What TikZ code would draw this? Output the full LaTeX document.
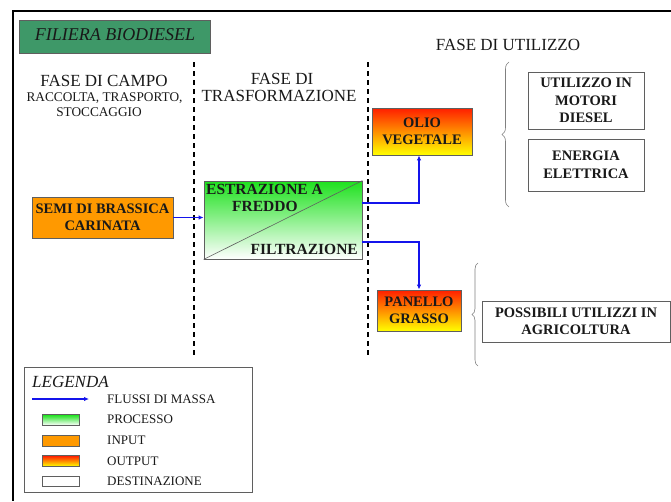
\documentclass[tikz,border=0pt]{standalone}
\usepackage{fontspec}
\setmainfont{Liberation Serif}
\usetikzlibrary{arrows.meta,decorations.pathreplacing}

\definecolor{titlegreen}{RGB}{62,152,104}
\definecolor{inorange}{RGB}{255,153,0}
\definecolor{flowblue}{RGB}{20,20,235}
\definecolor{boxgray}{RGB}{95,95,95}
\definecolor{procgreen}{RGB}{30,225,30}
\definecolor{outred}{RGB}{255,30,0}
\definecolor{outyellow}{RGB}{255,255,0}
\definecolor{txt}{RGB}{25,25,25}

\newcommand\myfs[2]{\fontsize{#1}{#2}\selectfont}

\begin{document}
\begin{tikzpicture}[x=1pt,y=-1pt,
 boxbase/.style={draw=boxgray, line width=0.8pt, rectangle, inner sep=0pt, align=center, text=txt, font=\bfseries\myfs{14.5}{17.5}},
 inbox/.style={boxbase, fill=inorange},
 outbox/.style={boxbase, top color=outred, bottom color=outyellow},
 destbox/.style={boxbase, fill=white},
 procbox/.style={boxbase, top color=procgreen, bottom color=white},
 titlebox/.style={boxbase, fill=titlegreen, font=\itshape\myfs{17}{20}},
 flow/.style={draw=flowblue, line width=1.6pt, -{Latex[length=5pt,width=4.5pt]}},
 phase/.style={anchor=base, font=\myfs{17}{20}, text=txt, inner sep=0pt},
 subphase/.style={anchor=base, font=\myfs{13.3}{16}, text=txt, inner sep=0pt},
 proctext/.style={font=\bfseries\myfs{15.5}{18}, text=txt, inner sep=0pt},
 sepline/.style={line width=1.4pt, dash pattern=on 5pt off 4pt},
 legtext/.style={anchor=base west, font=\myfs{13}{15}, text=txt, inner sep=0pt},
 swatch/.style={boxbase, minimum width=37pt, minimum height=10.5pt},
 bracestyle/.style={draw=gray, line width=0.6pt, decorate},
 frameline/.style={line width=2.4pt, black}]

\useasboundingbox (0,0) rectangle (671,501);

% frame
\coordinate (fa) at (671,11);
\coordinate (fb) at (13,11);
\coordinate (fc) at (13,501);
\draw[frameline] (fa) -- (fb) -- (fc);

% title
\node[titlebox, minimum width=191pt, minimum height=33pt] (title) at (114.5,36.5) {};
\node[anchor=base, font=\itshape\myfs{18}{20}, text=txt, inner sep=0pt] (titletext) at (115,40) {FILIERA BIODIESEL};

% phase headings
\node[phase] (futil) at (508,50) {FASE DI UTILIZZO};
\node[phase] (fcampo) at (104,86) {FASE DI CAMPO};
\node[subphase] (racc) at (104.5,101) {RACCOLTA, TRASPORTO,};
\node[subphase] (stocc) at (99,116) {STOCCAGGIO};
\node[phase] (ftr1) at (282,84.5) {FASE DI};
\node[phase] (ftr2) at (279,101) {TRASFORMAZIONE};

% separators
\coordinate (s1a) at (194,62); \coordinate (s1b) at (194,358);
\coordinate (s2a) at (368,62); \coordinate (s2b) at (368,358);
\draw[sepline] (s1a) -- (s1b);
\draw[sepline] (s2a) -- (s2b);

% boxes
\node[inbox, minimum width=141pt, minimum height=41pt] (semi) at (102.5,217.5) {SEMI DI BRASSICA\\CARINATA};
\node[procbox, minimum width=158pt, minimum height=78pt] (proc) at (283,220) {};
\draw[draw=boxgray, line width=0.6pt] (proc.south west) -- (proc.north east);
\node[proctext, anchor=base west] (estr) at (206,194) {ESTRAZIONE A};
\node[proctext, anchor=base west] (fredd) at (232,211) {FREDDO};
\node[proctext, anchor=base east] (filt) at (358,254) {FILTRAZIONE};

\node[outbox, minimum width=100pt, minimum height=47pt] (olio) at (422,131.5) {OLIO\\VEGETALE};
\node[outbox, minimum width=84pt, minimum height=41pt] (pan) at (419,310.5) {PANELLO\\GRASSO};

\node[destbox, minimum width=116pt, minimum height=57pt] (motori) at (586,100.5) {UTILIZZO IN\\MOTORI\\DIESEL};
\node[destbox, minimum width=116pt, minimum height=52pt] (energia) at (586,165) {ENERGIA\\ELETTRICA};
\node[destbox, minimum width=188pt, minimum height=41pt] (agri) at (576,321.5) {POSSIBILI UTILIZZI IN\\AGRICOLTURA};

% flows
\draw[flow] (semi.east) -- (semi.east -| proc.west);
\draw[flow] (proc.east |- 0,203) -| (pan.north |- olio.south);
\draw[flow] (proc.east |- 0,242) -| (pan.north);

% braces
\coordinate (b1a) at (509,207); \coordinate (b1b) at (509,62);
\draw[bracestyle, decoration={brace, amplitude=7pt}] (b1a) -- (b1b);
\coordinate (b2a) at (478,366); \coordinate (b2b) at (478,263);
\draw[bracestyle, decoration={brace, amplitude=6pt}] (b2a) -- (b2b);

% legend
\node[destbox, minimum width=228pt, minimum height=125pt] (leg) at (138,429.5) {};
\node[anchor=base west, font=\itshape\myfs{17}{20}, text=txt, inner sep=0pt] (legtitle) at (32,387) {LEGENDA};
\coordinate (la) at (32,399); \coordinate (lb) at (89,399);
\draw[flow, line width=1.2pt] (la) -- (lb);
\node[legtext] (l1) at (107,403) {FLUSSI DI MASSA};
\node[swatch, top color=procgreen, bottom color=white] (sw1) at (60.5,420) {};
\node[legtext] (l2) at (107,423) {PROCESSO};
\node[swatch, fill=inorange] (sw2) at (60.5,441) {};
\node[legtext] (l3) at (107,444) {INPUT};
\node[swatch, top color=outred, bottom color=outyellow] (sw3) at (60.5,461) {};
\node[legtext] (l4) at (107,465) {OUTPUT};
\node[swatch, fill=white] (sw4) at (60.5,481.5) {};
\node[legtext] (l5) at (107,485) {DESTINAZIONE};

\end{tikzpicture}
\end{document}
